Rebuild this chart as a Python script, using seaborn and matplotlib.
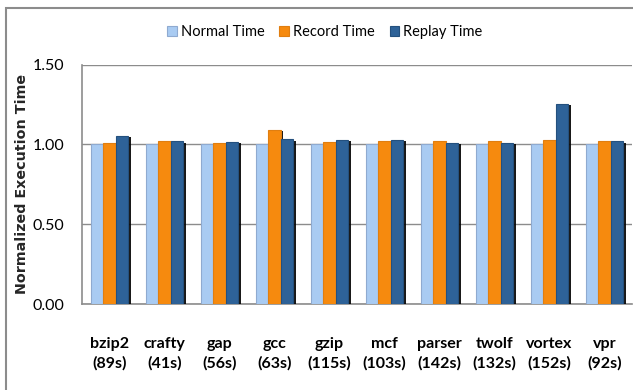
import pandas as pd
import seaborn as sns
import matplotlib.pyplot as plt
from matplotlib.patches import Rectangle
import matplotlib.patheffects as pe

benchmarks = ['bzip2', 'crafty', 'gap', 'gcc', 'gzip', 'mcf', 'parser', 'twolf', 'vortex', 'vpr']
run_times = ['89s', '41s', '56s', '63s', '115s', '103s', '142s', '132s', '152s', '92s']
normal_time = [1.00, 1.00, 1.00, 1.00, 1.00, 1.00, 1.00, 1.00, 1.00, 1.00]
record_time = [1.01, 1.02, 1.01, 1.09, 1.015, 1.02, 1.02, 1.02, 1.03, 1.02]
replay_time = [1.056, 1.02, 1.017, 1.033, 1.03, 1.03, 1.01, 1.01, 1.256, 1.02]
series = ['Normal Time', 'Record Time', 'Replay Time']
colors = ['#A9CBF2', '#F68A0E', '#2E6298']
edges = ['#8FAAD0', '#E07E10', '#24507E']

rows = []
for i, b in enumerate(benchmarks):
    rows.append((b, series[0], normal_time[i]))
    rows.append((b, series[1], record_time[i]))
    rows.append((b, series[2], replay_time[i]))
df = pd.DataFrame(rows, columns=['bench', 'series', 'value'])

sns.set_style('white')
plt.rcParams['font.family'] = ['Lato', 'DejaVu Sans']
plt.rcParams['text.color'] = 'black'
plt.rcParams['xtick.labelcolor'] = 'black'
plt.rcParams['ytick.labelcolor'] = 'black'

fig = plt.figure(figsize=(6.33, 3.90), dpi=100)
ax = fig.add_axes([82 / 633, 1 - 304 / 390, 550 / 633, (304 - 64.7) / 390])

sns.barplot(data=df, x='bench', y='value', hue='series', palette=colors, saturation=1,
            width=0.67, gap=0, ax=ax, legend=False, zorder=3)

shadow = [pe.SimplePatchShadow(offset=(2, -1), shadow_rgbFace='black', alpha=0.9), pe.Normal()]
for cont, ec in zip(ax.containers, edges):
    for bar in cont:
        bar.set_edgecolor(ec)
        bar.set_linewidth(0.8)
        bar.set_path_effects(shadow)

ax.set_ylim(0, 1.5)
ax.set_xlim(-0.5, 9.5)
ax.set_yticks([0, 0.5, 1.0, 1.5])
ax.set_yticklabels(['0.00', '0.50', '1.00', '1.50'], fontsize=11.5)
ax.set_xticks(range(len(benchmarks)))
ax.set_xticklabels([f'{b}\n({t})' for b, t in zip(benchmarks, run_times)],
                   fontsize=11.5, fontweight='bold', linespacing=1.45)
ax.set_xticks([x - 0.5 for x in range(len(benchmarks) + 1)], minor=True)
ax.tick_params(axis='x', which='major', length=0, pad=24)
ax.tick_params(axis='x', which='minor', length=6, color='#8c8c8c', width=1)
ax.tick_params(axis='y', length=5, color='#8c8c8c', width=1, pad=8)

ax.yaxis.grid(True, color='#8c8c8c', linewidth=1, zorder=0)
ax.set_axisbelow(True)
for s in ['top', 'right']:
    ax.spines[s].set_visible(False)
for s in ['left', 'bottom']:
    ax.spines[s].set_color('#8c8c8c')
    ax.spines[s].set_linewidth(1.2)

ax.set_xlabel('')
ax.set_ylabel('Normalized Execution Time', fontsize=10.3, fontweight='bold',
              family='DejaVu Sans')
ax.yaxis.set_label_coords(-(82 - 29) / 550, 0.5)

handles = [Rectangle((0, 0), 1, 1, facecolor=c, edgecolor=e, linewidth=0.8) for c, e in zip(colors, edges)]
fig.legend(handles, series, loc='center', bbox_to_anchor=(325 / 633, 1 - 32 / 390),
           ncol=3, frameon=False, fontsize=10.5, handlelength=0.65, handleheight=0.65,
           handletextpad=0.3, columnspacing=1.0)

fig.add_artist(Rectangle((6 / 633, -0.1), 1.2, 1.1 - 8 / 390, transform=fig.transFigure,
                         fill=False, edgecolor='#8c8c8c', linewidth=1.5))

plt.savefig('out.png', dpi=100)
